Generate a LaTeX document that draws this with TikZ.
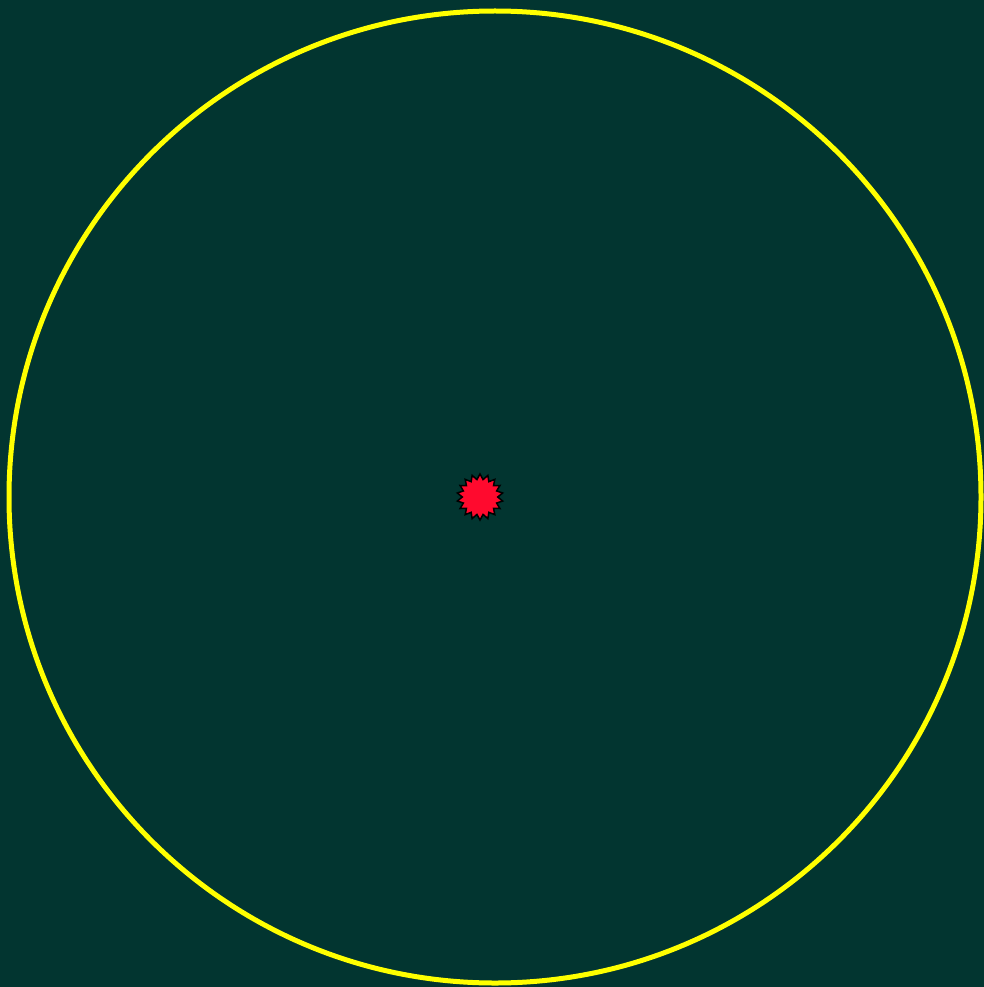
\documentclass[tikz,border=0pt]{standalone}
\usetikzlibrary{shapes.geometric}
\definecolor{bg}{HTML}{023530}
\definecolor{ring}{HTML}{FFFF00}
\definecolor{burst}{HTML}{FF0A2E}
\tikzset{
  ringline/.style={draw=ring, line width=5pt},
  burststar/.style={star, star points=18, star point ratio=1.3, minimum size=46pt, inner sep=0pt, fill=burst, draw=black, line width=1.5pt}
}
\begin{document}
\begin{tikzpicture}[x=1pt,y=-1pt]
\fill[bg] (0,0) rectangle (984,987);
\useasboundingbox (0,0) rectangle (984,987);
\node[circle, ringline, minimum size=972pt, inner sep=0pt] (ring) at (495,497) {};
\node[burststar] (center) at (480,497) {};
\end{tikzpicture}
\end{document}
